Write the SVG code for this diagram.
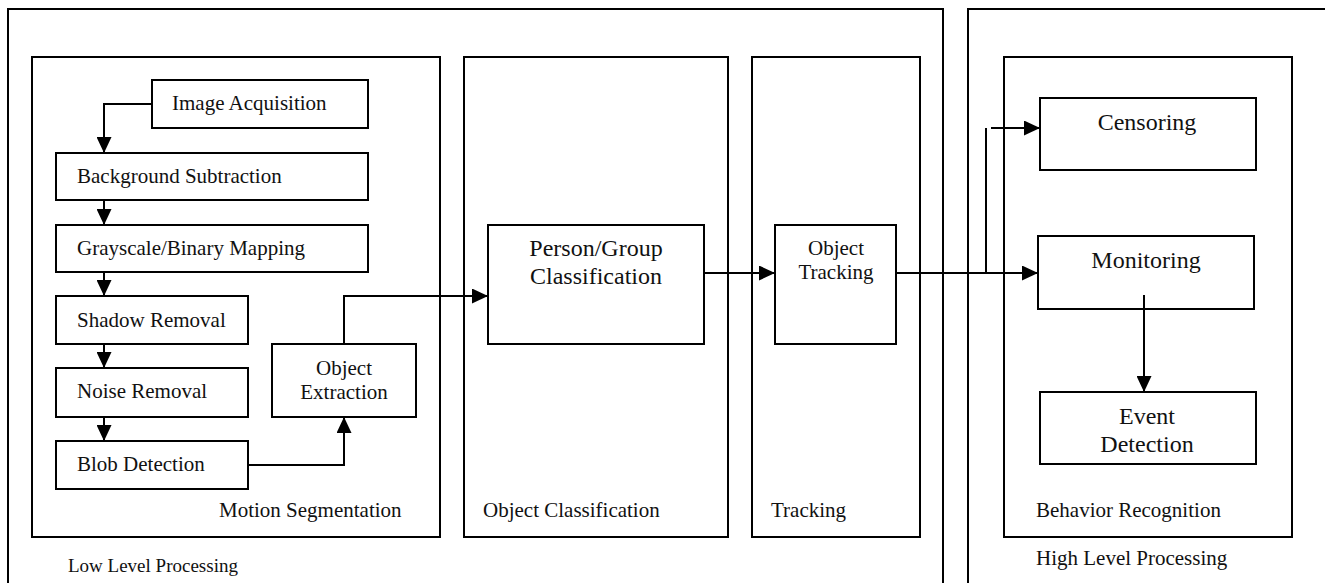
<svg xmlns="http://www.w3.org/2000/svg" width="1325" height="583" viewBox="0 0 1325 583">
<style>
.box{fill:none;stroke:#000;stroke-width:2}
.node{fill:#fff;stroke:#000;stroke-width:2}
.t{font-family:"Liberation Serif","Times New Roman",serif;font-size:21px;fill:#111}
.c{text-anchor:middle}
.big{font-size:24px}
.ln{fill:none;stroke:#000;stroke-width:2}
</style>
<defs>
<marker id="ah" markerUnits="userSpaceOnUse" markerWidth="16" markerHeight="15" refX="16" refY="7.5" orient="auto">
<path d="M0,0 L16,7.5 L0,15 z" fill="#000"/>
</marker>
</defs>
<rect width="1325" height="583" fill="#fff"/>
<g id="low-level">
<path class="box" d="M8,590 V9 H943 V590"/>
<text class="t" x="68" y="572" style="font-size:19px">Low Level Processing</text>
</g>
<g id="high-level">
<path class="box" d="M968,590 V9 H1330"/>
<text class="t" x="1036" y="565">High Level Processing</text>
</g>
<g id="motion-segmentation">
<rect class="box" x="32" y="57" width="408" height="480"/>
<text class="t" x="219" y="517">Motion Segmentation</text>
</g>
<g id="object-classification">
<rect class="box" x="464" y="57" width="264" height="480"/>
<text class="t" x="483" y="517">Object Classification</text>
</g>
<g id="tracking">
<rect class="box" x="752" y="57" width="168" height="480"/>
<text class="t" x="771" y="517">Tracking</text>
</g>
<g id="behavior-recognition">
<rect class="box" x="1004" y="57" width="288" height="480"/>
<text class="t" x="1036" y="517">Behavior Recognition</text>
</g>
<g id="image-acquisition">
<rect class="node" x="152" y="80" width="216" height="48"/>
<text class="t" x="172" y="110">Image Acquisition</text>
</g>
<g id="background-subtraction">
<rect class="node" x="56" y="153" width="312" height="47"/>
<text class="t" x="77" y="183">Background Subtraction</text>
</g>
<g id="grayscale-binary">
<rect class="node" x="56" y="225" width="312" height="47"/>
<text class="t" x="77" y="255">Grayscale/Binary Mapping</text>
</g>
<g id="shadow-removal">
<rect class="node" x="56" y="296" width="192" height="48"/>
<text class="t" x="77" y="327">Shadow Removal</text>
</g>
<g id="noise-removal">
<rect class="node" x="56" y="368" width="192" height="49"/>
<text class="t" x="77" y="398">Noise Removal</text>
</g>
<g id="blob-detection">
<rect class="node" x="56" y="441" width="192" height="48"/>
<text class="t" x="77" y="471">Blob Detection</text>
</g>
<g id="object-extraction">
<rect class="node" x="272" y="344" width="144" height="73"/>
<text class="t c" x="344" y="375">Object</text>
<text class="t c" x="344" y="399">Extraction</text>
</g>
<g id="person-group">
<rect class="node" x="488" y="225" width="216" height="119"/>
<text class="t c big" x="596" y="256">Person/Group</text>
<text class="t c big" x="596" y="284">Classification</text>
</g>
<g id="object-tracking">
<rect class="node" x="775" y="225" width="121" height="119"/>
<text class="t c" x="836" y="255">Object</text>
<text class="t c" x="836" y="279">Tracking</text>
</g>
<g id="censoring">
<rect class="node" x="1040" y="98" width="216" height="72"/>
<text class="t c big" x="1147" y="130">Censoring</text>
</g>
<g id="monitoring">
<rect class="node" x="1038" y="236" width="216" height="73"/>
<text class="t c big" x="1146" y="268">Monitoring</text>
</g>
<g id="event-detection">
<rect class="node" x="1040" y="392" width="216" height="72"/>
<text class="t c big" x="1147" y="424">Event</text>
<text class="t c big" x="1147" y="452">Detection</text>
</g>
<g id="connectors">
<path class="ln" d="M152,104 H104 V153" marker-end="url(#ah)"/>
<path class="ln" d="M104,200 V225" marker-end="url(#ah)"/>
<path class="ln" d="M104,272 V296" marker-end="url(#ah)"/>
<path class="ln" d="M104,344 V368" marker-end="url(#ah)"/>
<path class="ln" d="M104,417 V441" marker-end="url(#ah)"/>
<path class="ln" d="M248,465 H344 V417" marker-end="url(#ah)"/>
<path class="ln" d="M344,344 V296 H488" marker-end="url(#ah)"/>
<path class="ln" d="M704,273 H775" marker-end="url(#ah)"/>
<path class="ln" d="M896,273 H1038" marker-end="url(#ah)"/>
<path class="ln" d="M986,273 V128"/>
<path class="ln" d="M991,128 H1040" marker-end="url(#ah)"/>
<path class="ln" d="M1144,295 V392" marker-end="url(#ah)"/>
</g>
</svg>
